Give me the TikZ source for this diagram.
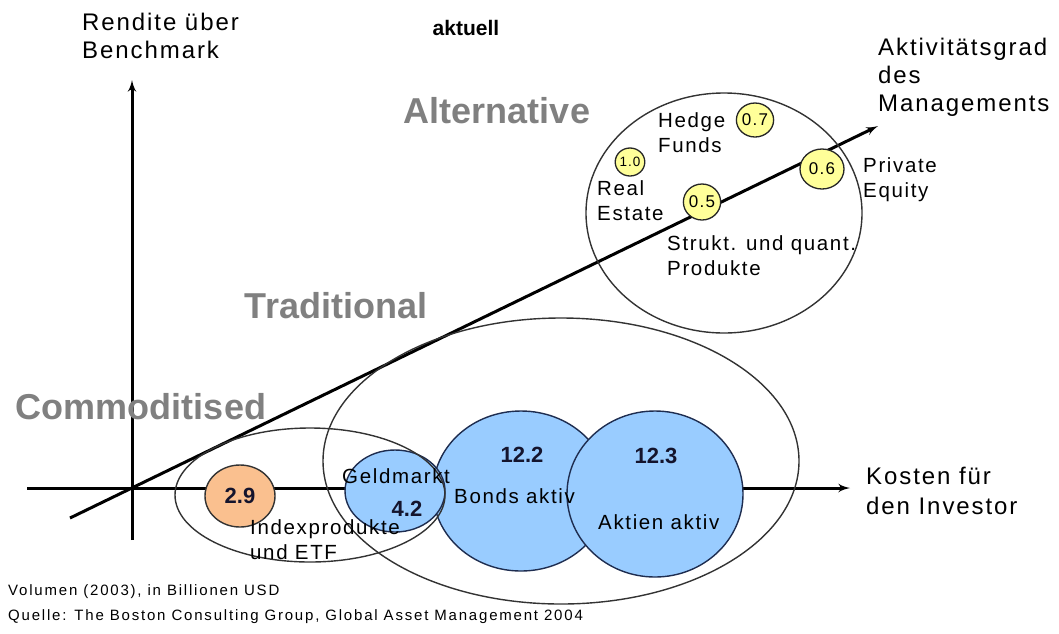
\documentclass[tikz,border=0pt]{standalone}
\usepackage{fontspec}
\setmainfont{Liberation Sans}
\newfontfamily\thinfont[LetterSpace=8]{Liberation Sans}
\newfontfamily\notefont[LetterSpace=12]{Liberation Sans}
\usetikzlibrary{shapes,arrows}
\usetikzlibrary{positioning,calc}

\definecolor{bluefill}{RGB}{153,204,255}
\definecolor{blueline}{RGB}{30,45,80}
\definecolor{orangefill}{RGB}{250,192,143}
\definecolor{yellowfill}{RGB}{255,255,153}
\definecolor{segmentgrey}{RGB}{128,128,128}
\definecolor{volumetext}{RGB}{20,20,45}

\begin{document}
\begin{tikzpicture}[x=1pt, y=-1pt, >=latex', align=left]

%local definitions
\tikzstyle{Axis} = [line width=3pt]
\tikzstyle{Region} = [draw=black!80, line width=1.4pt, ellipse, inner sep=0pt]
\tikzstyle{Bubble} = [draw=blueline, fill=bluefill, line width=1.4pt, ellipse, inner sep=0pt]
\tikzstyle{IndexBubble} = [draw=black!80, fill=orangefill, line width=1.4pt, ellipse, inner sep=0pt]
\tikzstyle{AltBubble} = [draw=black!85, fill=yellowfill, line width=1.3pt, ellipse, inner sep=0pt, font=\thinfont\fontsize{17}{18}\selectfont]
\tikzstyle{AxisLabel} = [font=\thinfont\fontsize{24}{28}\selectfont, anchor=west, inner sep=0pt]
\tikzstyle{ItemLabel} = [font=\thinfont\fontsize{20.5}{25}\selectfont, anchor=west, inner sep=0pt]
\tikzstyle{Segment} = [font=\bfseries\fontsize{36}{40}\selectfont, text=segmentgrey, inner sep=0pt]
\tikzstyle{Volume} = [font=\bfseries\fontsize{22}{26}\selectfont, text=volumetext, inner sep=0pt]
\tikzstyle{Note} = [font=\notefont\fontsize{15}{16}\selectfont, anchor=west, inner sep=0pt]

\useasboundingbox (0,0) rectangle (1059,633);

%axes
\coordinate (xstart) at (27,488);
\coordinate (xend) at (850,488);
\coordinate (ystart) at (132,540);
\coordinate (yend) at (132,80);
\coordinate (dstart) at (70,518);
\coordinate (dend) at (878,126);

\draw [Axis,->] (xstart) -- (xend);
\draw [Axis,->] (ystart) -- (yend);
\draw [Axis,->] (dstart) -- (dend);

%main bubbles
\node [Bubble, minimum width=176pt, minimum height=160pt] (Bonds) at (521,491) {};
\node [Bubble, minimum width=176pt, minimum height=166pt] (Aktien) at (655,494) {};
\node [Bubble, minimum width=100pt, minimum height=82pt] (Geldmarkt) at (395,491) {};
\node [IndexBubble, minimum width=70pt, minimum height=62pt] (Index) at (240,496) {};

%segments
\node [Region, minimum width=270pt, minimum height=134pt] (Commoditised) at (310,495) {};
\node [Region, minimum width=476pt, minimum height=286pt] (Traditional) at (561,461) {};
\node [Region, minimum width=276pt, minimum height=240pt] (Alternative) at (724,213) {};

%alternative bubbles
\node [AltBubble, minimum width=34pt, minimum height=34pt] (Hedge) at (755,120) {0.7};
\node [AltBubble, minimum width=28pt, minimum height=28pt, font=\thinfont\fontsize{13.5}{15}\selectfont] (RealEstate) at (630,162) {1.0};
\node [AltBubble, minimum width=36pt, minimum height=36pt] (Strukt) at (702,202) {0.5};
\node [AltBubble, minimum width=44pt, minimum height=40pt] (Private) at (822,169) {0.6};

%labels
\node [AxisLabel] (yLabel) at (82,36) {Rendite über\\Benchmark};
\node [font=\bfseries\fontsize{21}{24}\selectfont, inner sep=0pt] (title) at (466,28) {aktuell};
\node [AxisLabel] (dLabel) at (878,77) {Aktivitätsgrad\\des\\Managements};
\node [AxisLabel, font=\thinfont\fontsize{24}{30}\selectfont] (xLabel) at (866,491) {Kosten für\\den Investor};

\node [Segment] (AltName) at (497,111) {Alternative};
\node [Segment] (TradName) at (336,306) {Traditional};
\node [Segment] (CommName) at (141,407) {Commoditised};

\node [ItemLabel] (HedgeName) at (658,133) {Hedge\\Funds};
\node [ItemLabel] (RealName) at (597,201) {Real\\Estate};
\node [ItemLabel] (PrivateName) at (863,180) {Private\\Equity};
\node [ItemLabel] (StruktName) at (667,256) {Strukt. und quant.\\Produkte};
\node [ItemLabel] (GeldName) at (342,476) {Geldmarkt};
\node [ItemLabel] (IndexName) at (250,540) {Indexprodukte\\und ETF};
\node [ItemLabel] (BondsName) at (454,496) {Bonds aktiv};
\node [ItemLabel] (AktienName) at (598,522) {Aktien aktiv};

\node [Volume] at (Index) {2.9};
\node [Volume] (GeldVol) at (407,509) {4.2};
\node [Volume] (BondsVol) at (522,455) {12.2};
\node [Volume] (AktienVol) at (656,456) {12.3};

%notes
\node [Note] (volNote) at (8,592) {Volumen (2003), in Billionen USD};
\node [Note] (srcNote) at (8,617) {Quelle: The Boston Consulting Group, Global Asset Management 2004};

\end{tikzpicture}
\end{document}
